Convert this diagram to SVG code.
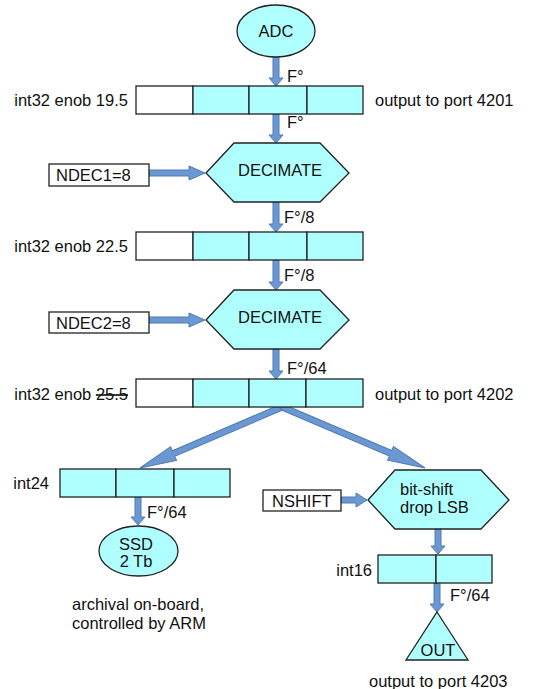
<svg xmlns="http://www.w3.org/2000/svg" width="533" height="689" viewBox="0 0 533 689">
<style>
text{font-family:"Liberation Sans",Arial,sans-serif;font-size:16.5px;fill:#111}
.c{fill:#b0ffff;stroke:#222;stroke-width:1.3}
.w{fill:#fff;stroke:#222;stroke-width:1.3}
.a{fill:#6b98d0;stroke:#4d7bb8;stroke-width:1}
.m{text-anchor:middle}
.e{text-anchor:end}
</style>
<rect width="533" height="689" fill="#fff"/>
<g id="connectors">
<polygon class="a" points="273,57 279,57 279,78 283,78 276,86 269,78 273,78"/>
<polygon class="a" points="273,114 279,114 279,135 283,135 276,143 269,135 273,135"/>
<polygon class="a" points="273,202 279,202 279,224 283,224 276,232 269,224 273,224"/>
<polygon class="a" points="273,260 279,260 279,282 283,282 276,290 269,282 273,282"/>
<polygon class="a" points="273,349 279,349 279,371 283,371 276,379 269,371 273,371"/>
<polygon class="a" points="149,170 189,170 189,166 205,173 189,180 189,176 149,176"/>
<polygon class="a" points="149,317 189,317 189,313 205,320 189,327 189,323 149,323"/>
<polygon class="a" points="341,497 356,497 356,493 367,500 356,507 356,503 341,503"/>
<g transform="translate(282,407) rotate(156.75)"><polygon class="a" points="0,-3 118,-3 118,-7.5 154.5,0 118,7.5 118,3 0,3"/></g>
<g transform="translate(282,407) rotate(23.1)"><polygon class="a" points="0,-3 118,-3 118,-7.5 155.5,0 118,7.5 118,3 0,3"/></g>
<polygon class="a" points="135,497 141,497 141,517 145,517 138,525 131,517 135,517"/>
<polygon class="a" points="435,529 441,529 441,546 445,546 438,554 431,546 435,546"/>
<polygon class="a" points="434,583 440,583 440,604 444,604 437,612 430,604 434,604"/>
<text x="287" y="82">F°</text>
<text x="287" y="128">F°</text>
<text x="284" y="223">F°/8</text>
<text x="284" y="281">F°/8</text>
<text x="287" y="374">F°/64</text>
<text x="147" y="518">F°/64</text>
<text x="450" y="601">F°/64</text>
</g>
<g id="adc">
<ellipse class="c" cx="276" cy="31" rx="39" ry="26"/>
<text class="m" x="276" y="37">ADC</text>
</g>
<g id="reg1">
<rect class="w" x="136" y="86" width="57" height="28"/>
<rect class="c" x="193" y="86" width="56" height="28"/>
<rect class="c" x="249" y="86" width="58" height="28"/>
<rect class="c" x="307" y="86" width="56" height="28"/>
<text class="e" x="128" y="106">int32 enob 19.5</text>
<text x="375" y="106">output to port 4201</text>
</g>
<g id="ndec1">
<rect class="w" x="49" y="164" width="100" height="22"/>
<text x="56" y="181">NDEC1=8</text>
</g>
<g id="decimate1">
<polygon class="c" points="206,173 234,143 320,143 349,173 320,202 234,202"/>
<text class="m" x="280" y="176">DECIMATE</text>
</g>
<g id="reg2">
<rect class="w" x="136" y="232" width="57" height="28"/>
<rect class="c" x="193" y="232" width="56" height="28"/>
<rect class="c" x="249" y="232" width="58" height="28"/>
<rect class="c" x="307" y="232" width="56" height="28"/>
<text class="e" x="128" y="252">int32 enob 22.5</text>
</g>
<g id="ndec2">
<rect class="w" x="49" y="312" width="100" height="21"/>
<text x="56" y="329">NDEC2=8</text>
</g>
<g id="decimate2">
<polygon class="c" points="206,320 234,290 320,290 349,320 320,349 234,349"/>
<text class="m" x="280" y="323">DECIMATE</text>
</g>
<g id="reg3">
<rect class="w" x="136" y="379" width="57" height="28"/>
<rect class="c" x="193" y="379" width="56" height="28"/>
<rect class="c" x="249" y="379" width="57" height="28"/>
<rect class="c" x="306" y="379" width="57" height="28"/>
<text class="e" x="128" y="400">int32 enob <tspan text-decoration="line-through">25.5</tspan></text>
<text x="375" y="400">output to port 4202</text>
</g>
<g id="int24">
<rect class="c" x="60" y="469" width="56" height="28"/>
<rect class="c" x="116" y="469" width="58" height="28"/>
<rect class="c" x="174" y="469" width="56" height="28"/>
<text class="e" x="49" y="489">int24</text>
</g>
<g id="ssd">
<ellipse class="c" cx="138.5" cy="551" rx="39.5" ry="25"/>
<text class="m" x="136" y="550">SSD</text>
<text class="m" x="136" y="567">2 Tb</text>
<text x="72" y="610">archival on-board,</text>
<text x="72" y="629">controlled by ARM</text>
</g>
<g id="nshift">
<rect class="w" x="263" y="490" width="78" height="21"/>
<text x="272" y="507">NSHIFT</text>
</g>
<g id="bitshift">
<polygon class="c" points="368,500 395,470 481,470 509,500 481,529 395,529"/>
<text x="400" y="495">bit-shift</text>
<text x="400" y="513">drop LSB</text>
</g>
<g id="int16">
<rect class="c" x="378" y="555" width="58" height="28"/>
<rect class="c" x="436" y="555" width="56" height="28"/>
<text class="e" x="372" y="576">int16</text>
</g>
<g id="out">
<polygon class="c" points="437,612 468,660 406,660"/>
<text class="m" x="438" y="656">OUT</text>
<text x="369" y="687">output to port 4203</text>
</g>
</svg>
